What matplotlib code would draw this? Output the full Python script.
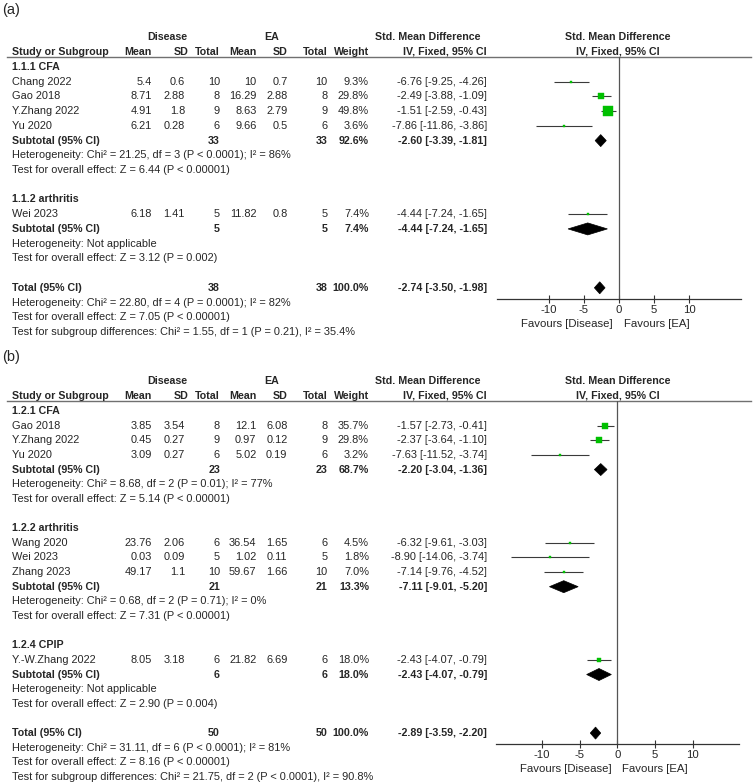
import matplotlib
matplotlib.use("Agg")
import matplotlib.pyplot as plt
from matplotlib.patches import Polygon

plt.rcParams['font.family'] = ['Liberation Sans', 'DejaVu Sans']

W, H = 753, 783
DPI = 100
FS = 7.9
FS_B = 7.7
FS_AX = 8.2
TXT = '#262626'
GREEN = '#00c000'
CI_COL = '#3a3a3a'

# ---------------- data: panel (a) ----------------
a_groups = ["1.1.1 CFA", "1.1.2 arthritis"]
a_studies = [["Chang 2022", "Gao 2018", "Y.Zhang 2022", "Yu 2020"], ["Wei 2023"]]
a_dis_mean = [[5.4, 8.71, 4.91, 6.21], [6.18]]
a_dis_sd = [[0.6, 2.88, 1.8, 0.28], [1.41]]
a_dis_n = [[10, 8, 9, 6], [5]]
a_ea_mean = [[10, 16.29, 8.63, 9.66], [11.82]]
a_ea_sd = [[0.7, 2.88, 2.79, 0.5], [0.8]]
a_ea_n = [[10, 8, 9, 6], [5]]
a_weight = [[9.3, 29.8, 49.8, 3.6], [7.4]]
a_smd = [[-6.76, -2.49, -1.51, -7.86], [-4.44]]
a_lo = [[-9.25, -3.88, -2.59, -11.86], [-7.24]]
a_hi = [[-4.26, -1.09, -0.43, -3.86], [-1.65]]
a_sub_n = [(33, 33), (5, 5)]
a_sub_w = [92.6, 7.4]
a_sub_smd = [-2.60, -4.44]
a_sub_lo = [-3.39, -7.24]
a_sub_hi = [-1.81, -1.65]
a_sub_het = ["Heterogeneity: Chi² = 21.25, df = 3 (P < 0.0001); I² = 86%",
             "Heterogeneity: Not applicable"]
a_sub_z = ["Test for overall effect: Z = 6.44 (P < 0.00001)",
           "Test for overall effect: Z = 3.12 (P = 0.002)"]
a_tot_n = (38, 38)
a_tot_smd, a_tot_lo, a_tot_hi = -2.74, -3.50, -1.98
a_tot_txt = ["Heterogeneity: Chi² = 22.80, df = 4 (P = 0.0001); I² = 82%",
             "Test for overall effect: Z = 7.05 (P < 0.00001)",
             "Test for subgroup differences: Chi² = 1.55, df = 1 (P = 0.21), I² = 35.4%"]
a_ticks = [-10, -5, 0, 5, 10]

# ---------------- data: panel (b) ----------------
b_groups = ["1.2.1 CFA", "1.2.2 arthritis", "1.2.4 CPIP"]
b_studies = [["Gao 2018", "Y.Zhang 2022", "Yu 2020"],
             ["Wang 2020", "Wei 2023", "Zhang 2023"],
             ["Y.-W.Zhang 2022"]]
b_dis_mean = [[3.85, 0.45, 3.09], [23.76, 0.03, 49.17], [8.05]]
b_dis_sd = [[3.54, 0.27, 0.27], [2.06, 0.09, 1.1], [3.18]]
b_dis_n = [[8, 9, 6], [6, 5, 10], [6]]
b_ea_mean = [[12.1, 0.97, 5.02], [36.54, 1.02, 59.67], [21.82]]
b_ea_sd = [[6.08, 0.12, 0.19], [1.65, 0.11, 1.66], [6.69]]
b_ea_n = [[8, 9, 6], [6, 5, 10], [6]]
b_weight = [[35.7, 29.8, 3.2], [4.5, 1.8, 7.0], [18.0]]
b_smd = [[-1.57, -2.37, -7.63], [-6.32, -8.90, -7.14], [-2.43]]
b_lo = [[-2.73, -3.64, -11.52], [-9.61, -14.06, -9.76], [-4.07]]
b_hi = [[-0.41, -1.10, -3.74], [-3.03, -3.74, -4.52], [-0.79]]
b_sub_n = [(23, 23), (21, 21), (6, 6)]
b_sub_w = [68.7, 13.3, 18.0]
b_sub_smd = [-2.20, -7.11, -2.43]
b_sub_lo = [-3.04, -9.01, -4.07]
b_sub_hi = [-1.36, -5.20, -0.79]
b_sub_het = ["Heterogeneity: Chi² = 8.68, df = 2 (P = 0.01); I² = 77%",
             "Heterogeneity: Chi² = 0.68, df = 2 (P = 0.71); I² = 0%",
             "Heterogeneity: Not applicable"]
b_sub_z = ["Test for overall effect: Z = 5.14 (P < 0.00001)",
           "Test for overall effect: Z = 7.31 (P < 0.00001)",
           "Test for overall effect: Z = 2.90 (P = 0.004)"]
b_tot_n = (50, 50)
b_tot_smd, b_tot_lo, b_tot_hi = -2.89, -3.59, -2.20
b_tot_txt = ["Heterogeneity: Chi² = 31.11, df = 6 (P < 0.0001); I² = 81%",
             "Test for overall effect: Z = 8.16 (P < 0.00001)",
             "Test for subgroup differences: Chi² = 21.75, df = 2 (P < 0.0001), I² = 90.8%"]
b_ticks = [-10, -5, 0, 5, 10]

fig = plt.figure(figsize=(W / DPI, H / DPI), dpi=DPI)
tax = fig.add_axes([0, 0, 1, 1])
tax.set_xlim(0, W)
tax.set_ylim(H, 0)
tax.axis('off')

# column right edges
X_STUDY = 12
X_DM, X_DSD, X_DN = 152, 185, 220
X_EM, X_ESD, X_EN = 256.5, 287.5, 327.5
X_W = 369
X_SMD = 487
X_FOREST = 618


def T(x, y, s, ha='left', bold=False, size=None, color=TXT):
    if size is None:
        size = FS_B if bold else FS
    tax.text(x, y, s, ha=ha, va='center', fontsize=size,
             fontweight='bold' if bold else 'normal', color=color)


def fmt_ci(e, l, h):
    return f"{e:.2f} [{l:.2f}, {h:.2f}]"


def diamond(ax, e, l, h, y, hgt=12):
    ax.add_patch(Polygon([(l, y), (e, y - hgt / 2), (h, y), (e, y + hgt / 2)],
                         closed=True, facecolor='black', edgecolor='black', lw=0.5))


def panel(label, label_y, y0, step, axis_y, x_left, x_zero, x_right, ppu,
          groups, studies, dm, dsd, dn, em, esd, en, wt, smd, lo, hi,
          sub_n, sub_w, sub_smd, sub_lo, sub_hi, sub_het, sub_z,
          tot_n, tot_smd, tot_lo, tot_hi, tot_txt, ticks):
    T(2, label_y, label, size=10.5)
    # headers
    T(167, y0 - 30, "Disease", ha='center', bold=True)
    T(272, y0 - 30, "EA", ha='center', bold=True)
    T(428, y0 - 30, "Std. Mean Difference", ha='center', bold=True)
    T(X_FOREST, y0 - 30, "Std. Mean Difference", ha='center', bold=True)
    hy = y0 - 15
    T(X_STUDY, hy, "Study or Subgroup", bold=True)
    T(X_DM, hy, "Mean", ha='right', bold=True)
    T(189, hy, "SD", ha='right', bold=True)
    T(X_DN, hy, "Total", ha='right', bold=True)
    T(X_EM, hy, "Mean", ha='right', bold=True)
    T(288, hy, "SD", ha='right', bold=True)
    T(X_EN, hy, "Total", ha='right', bold=True)
    T(X_W, hy, "Weight", ha='right', bold=True)
    T(X_SMD, hy, "IV, Fixed, 95% CI", ha='right', bold=True)
    T(X_FOREST, hy, "IV, Fixed, 95% CI", ha='center', bold=True)
    line_y = y0 - 10
    tax.plot([7, 751], [line_y, line_y], color='#707070', lw=1.0)

    # forest axes
    fax = fig.add_axes([x_left / W, 1 - axis_y / H, (x_right - x_left) / W,
                        (axis_y - line_y) / H])
    fax.set_xlim((x_left - x_zero) / ppu, (x_right - x_zero) / ppu)
    fax.set_ylim(axis_y, line_y)
    fax.patch.set_alpha(0)
    for s in ['top', 'left', 'right']:
        fax.spines[s].set_visible(False)
    fax.spines['bottom'].set_color('#333333')
    fax.spines['bottom'].set_linewidth(0.9)
    fax.set_yticks([])
    fax.set_xticks(ticks)
    fax.set_xticklabels([str(t) for t in ticks])
    fax.tick_params(axis='x', direction='inout', length=6, width=0.8,
                    color='#333333', labelsize=FS_AX, labelcolor=TXT, pad=1.0)
    fax.axvline(0, color='#555555', lw=0.9)

    r = 0
    for g in range(len(groups)):
        T(X_STUDY, y0 + r * step, groups[g], bold=True)
        r += 1
        for i in range(len(studies[g])):
            y = y0 + r * step
            T(X_STUDY, y, studies[g][i])
            T(X_DM, y, f"{dm[g][i]:g}", ha='right')
            T(X_DSD, y, f"{dsd[g][i]:g}", ha='right')
            T(X_DN, y, f"{dn[g][i]:g}", ha='right')
            T(X_EM, y, f"{em[g][i]:g}", ha='right')
            T(X_ESD, y, f"{esd[g][i]:g}", ha='right')
            T(X_EN, y, f"{en[g][i]:g}", ha='right')
            T(X_W, y, f"{wt[g][i]:.1f}%", ha='right')
            T(X_SMD, y, fmt_ci(smd[g][i], lo[g][i], hi[g][i]), ha='right')
            fax.hlines(y, lo[g][i], hi[g][i], color=CI_COL, lw=0.8)
            side = max(2.4, 0.185 * wt[g][i])
            fax.plot(smd[g][i], y, marker='s', ms=side * 0.72, color=GREEN,
                     mec=GREEN, mew=0.3)
            r += 1
        y = y0 + r * step
        T(X_STUDY, y, "Subtotal (95% CI)", bold=True)
        T(X_DN, y, str(sub_n[g][0]), ha='right', bold=True)
        T(X_EN, y, str(sub_n[g][1]), ha='right', bold=True)
        T(X_W, y, f"{sub_w[g]:.1f}%", ha='right', bold=True)
        T(X_SMD, y, fmt_ci(sub_smd[g], sub_lo[g], sub_hi[g]), ha='right', bold=True)
        diamond(fax, sub_smd[g], sub_lo[g], sub_hi[g], y)
        r += 1
        T(X_STUDY, y0 + r * step, sub_het[g])
        r += 1
        T(X_STUDY, y0 + r * step, sub_z[g])
        r += 2
    y = y0 + r * step
    T(X_STUDY, y, "Total (95% CI)", bold=True)
    T(X_DN, y, str(tot_n[0]), ha='right', bold=True)
    T(X_EN, y, str(tot_n[1]), ha='right', bold=True)
    T(X_W, y, "100.0%", ha='right', bold=True)
    T(X_SMD, y, fmt_ci(tot_smd, tot_lo, tot_hi), ha='right', bold=True)
    diamond(fax, tot_smd, tot_lo, tot_hi, y)
    for k, s in enumerate(tot_txt):
        T(X_STUDY, y + (k + 1) * step, s)
    fy = axis_y + 24.5
    T(x_zero - 6, fy, "Favours [Disease]", ha='right', size=FS_AX)
    T(x_zero + 5, fy, "Favours [EA]", ha='left', size=FS_AX)


panel("(a)", 10, 67, 14.72, 299.3, 496.7, 619.0, 740.7, 7.035,
      a_groups, a_studies, a_dis_mean, a_dis_sd, a_dis_n, a_ea_mean, a_ea_sd, a_ea_n,
      a_weight, a_smd, a_lo, a_hi, a_sub_n, a_sub_w, a_sub_smd, a_sub_lo, a_sub_hi,
      a_sub_het, a_sub_z, a_tot_n, a_tot_smd, a_tot_lo, a_tot_hi, a_tot_txt, a_ticks)

panel("(b)", 357, 411, 14.64, 744.3, 496.0, 617.3, 739.3, 7.53,
      b_groups, b_studies, b_dis_mean, b_dis_sd, b_dis_n, b_ea_mean, b_ea_sd, b_ea_n,
      b_weight, b_smd, b_lo, b_hi, b_sub_n, b_sub_w, b_sub_smd, b_sub_lo, b_sub_hi,
      b_sub_het, b_sub_z, b_tot_n, b_tot_smd, b_tot_lo, b_tot_hi, b_tot_txt, b_ticks)

fig.savefig("out.png", dpi=DPI)
